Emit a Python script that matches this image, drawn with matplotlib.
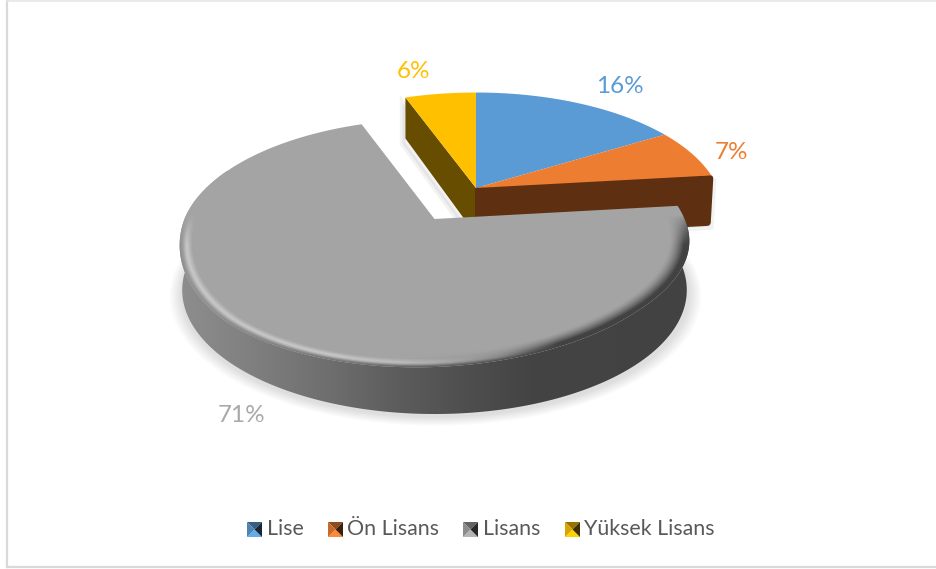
import numpy as np
import matplotlib
matplotlib.use('Agg')
import matplotlib.pyplot as plt
from matplotlib.patches import Polygon

categories = ['Lise', 'Ön Lisans', 'Lisans', 'Yüksek Lisans']
values = [16.4, 6.8, 71.2, 5.6]
pct_labels = ['16%', '7%', '71%', '6%']

top_colors = ['#5b9bd5', '#ed7d31', '#a5a5a5', '#ffc000']
text_colors = ['#5b9bd5', '#ed7d31', '#a9a9a9', '#ffc000']
label_pos = [(620, 86), (731, 152), (242, 415), (414, 71)]
legend_marker_x = [247, 328, 463, 565]
legend_text_x = [267, 347, 483, 584]

plt.rcParams['font.family'] = ['Lato', 'DejaVu Sans']

fig = plt.figure(figsize=(9.36, 5.69), dpi=100)
ax = fig.add_axes([0, 0, 1, 1])

# perspective of the pie, k squeezes the back and stretches the front
k = -0.194
# the front of the big slice leans a little, lower on the left
lean = -0.035


def rim(t0, t1, apex, a, b, n=200, tilt=0.0):
    # t in degrees clockwise from 12 o'clock
    t = np.radians(np.linspace(t0, t1, n))
    u, v = np.sin(t), -np.cos(t)
    w = 1 + k * v
    x, y = a * u / w, b * v / w
    return apex[0] + x, apex[1] + y + tilt * x * np.clip(y / 100, 0, 1)


def disc_radius(xx, yy, apex, a, b, tilt=0.0):
    y = yy - apex[1]
    y = y - tilt * (xx - apex[0]) * np.clip(y / 100, 0, 1)
    v = y / (b - k * y)
    u = (xx - apex[0]) * (1 + k * v) / a
    return np.sqrt(u ** 2 + v ** 2)


# slice angles from the values, first slice starts at the top
edges = np.concatenate([[0], np.cumsum(values)]) * 3.6

small_apex = (476, 188)
small_a, small_b = 242, 114
gray_apex = (434.5, 219)
gray_a, gray_b = 250, 119.3

yy, xx = np.mgrid[0:569, 0:936] + 0.5
extent = (0, 936, 569, 0)

# shadow under the big slice, only below the gap
d_shadow = disc_radius(xx - 1, yy - 51, gray_apex, gray_a, gray_b)
shadow = np.zeros((569, 936, 4))
shadow[..., 3] = np.clip((1.045 - d_shadow) / 0.05, 0, 1) * 0.13 * np.clip((yy - 235) / 30, 0, 1)
ax.imshow(shadow, extent=extent, aspect='auto', zorder=1)

# side faces of the small slices
yellow_x, yellow_y = rim(edges[3], edges[3], small_apex, small_a, small_b, n=1)
yellow_side = [small_apex, (yellow_x[0], yellow_y[0]), (yellow_x[0], yellow_y[0] + 41),
               (small_apex[0], small_apex[1] + 47)]
ax.add_patch(Polygon(np.array(yellow_side) + (-3, 5), closed=True, fc='black', ec='black',
                     alpha=0.05, lw=4, zorder=1.5))
ax.add_patch(Polygon(yellow_side, closed=True, fc='#664d00', ec='none', zorder=2))

brown_x, brown_y = rim(edges[2], edges[2], small_apex, small_a, small_b, n=1)
brown_side = [(small_apex[0] + 2.5, small_apex[1] + 2), (brown_x[0] - 1.5, brown_y[0] + 3),
              (brown_x[0] - 4, brown_y[0] + 47), (small_apex[0] + 2.5, small_apex[1] + 47)]
ax.add_patch(Polygon(np.array(brown_side) + (3, 4), closed=True, fc='black', ec='black',
                     alpha=0.05, lw=5, zorder=1.5))
ax.add_patch(Polygon(brown_side, closed=True, fc='#5f2f12', ec='#5f2f12', lw=5,
                     joinstyle='round', zorder=2))

# top faces of the small slices
for i in [0, 1, 3]:
    x, y = rim(edges[i], edges[i + 1], small_apex, small_a, small_b)
    ax.fill(np.r_[small_apex[0], x], np.r_[small_apex[1], y], color=top_colors[i], lw=0, zorder=3)

# big slice, side face with gradient from left to right
t0, t1 = edges[2], edges[3]
x_top, y_top = rim(t0, 296, gray_apex, gray_a, gray_b, tilt=lean)
x_low, y_low = rim(t0, 296, gray_apex, gray_a * 0.99, gray_b)
side_poly = Polygon(np.c_[np.r_[x_top, x_low[::-1]], np.r_[y_top, y_low[::-1] + 47]],
                    closed=True, transform=ax.transData, fc='none', ec='none')
ax.add_patch(side_poly)
side_grey = np.interp(xx[0], [180, 250, 330, 400, 470, 530, 700],
                      [0x8e, 0x80, 0x6e, 0x5c, 0x4e, 0x44, 0x42])
side_img = np.repeat(side_grey[None, :, None], 569, axis=0).repeat(3, axis=2) / 255
im = ax.imshow(side_img, extent=extent, aspect='auto', zorder=4)
im.set_clip_path(side_poly)

# big slice, top face with bevel along the front rim
d = disc_radius(xx, yy, gray_apex, gray_a, gray_b, tilt=lean)
light = np.interp(xx, [180, 330, 440, 500, 700], [1, 1, 0.45, 0, 0])
dark = np.interp(xx, [180, 400, 500, 560, 700], [0, 0, 0.3, 1, 1])
bump = np.clip(1 - np.abs(d - 0.972) / 0.02, 0, 1)
ramp = np.clip((d - 0.925) / 0.055, 0, 1) ** 1.5
front = np.clip((yy - 215) / 30, 0, 1)
shade = 0xa4 + front * (light * bump * 36 - dark * ramp * (0xa4 - 0x42))
# the last bit of the rim melts into the side colour
melt = np.clip((d - 0.98) / 0.02, 0, 1) * front
shade = shade * (1 - melt) + side_grey[None, :] * melt
shade = np.clip(shade, 0, 255) / 255
x_top, y_top = rim(t0, t1, gray_apex, gray_a, gray_b, n=400, tilt=lean)
top_poly = Polygon(np.c_[np.r_[gray_apex[0], x_top], np.r_[gray_apex[1], y_top]],
                   closed=True, transform=ax.transData, fc='none', ec='none')
ax.add_patch(top_poly)
im = ax.imshow(np.dstack([shade, shade, shade]), extent=extent, aspect='auto', zorder=5)
im.set_clip_path(top_poly)

# percent labels
for lab, col, (lx, ly) in zip(pct_labels, text_colors, label_pos):
    ax.text(lx, ly, lab, color=col, fontsize=17.5, ha='center', va='center', zorder=6)

# legend, the markers are little bevelled squares
for name, col, mx, tx in zip(categories, top_colors, legend_marker_x, legend_text_x):
    rgb = np.array(matplotlib.colors.to_rgb(col))
    x0, x1, y0, y1 = mx, mx + 15, 522, 537
    xc, yc = mx + 7.5, 529.5
    ax.fill([x0, x1, xc], [y0, y0, yc], color=rgb * 0.6, lw=0, zorder=6)
    ax.fill([x0, x1, xc], [y1, y1, yc], color=np.clip(rgb * 1.1, 0, 1), lw=0, zorder=6)
    ax.fill([x0, x0, xc], [y0, y1, yc], color=rgb * 0.85, lw=0, zorder=6)
    ax.fill([x1, x1, xc], [y0, y1, yc], color=rgb * 0.25, lw=0, zorder=6)
    ax.text(tx, 529, name, color='#595959', fontsize=15.4, ha='left', va='center', zorder=6)

# chart frame
ax.plot([7, 7], [0, 567], color='#d9d9d9', lw=1.6, zorder=7)
ax.plot([7, 936], [567, 567], color='#d9d9d9', lw=1.6, zorder=7)
ax.plot([7, 936], [0.5, 0.5], color='#e6e6e6', lw=1.2, zorder=7)

ax.set_xlim(0, 936)
ax.set_ylim(569, 0)
ax.axis('off')

fig.savefig('out.png', dpi=100)
